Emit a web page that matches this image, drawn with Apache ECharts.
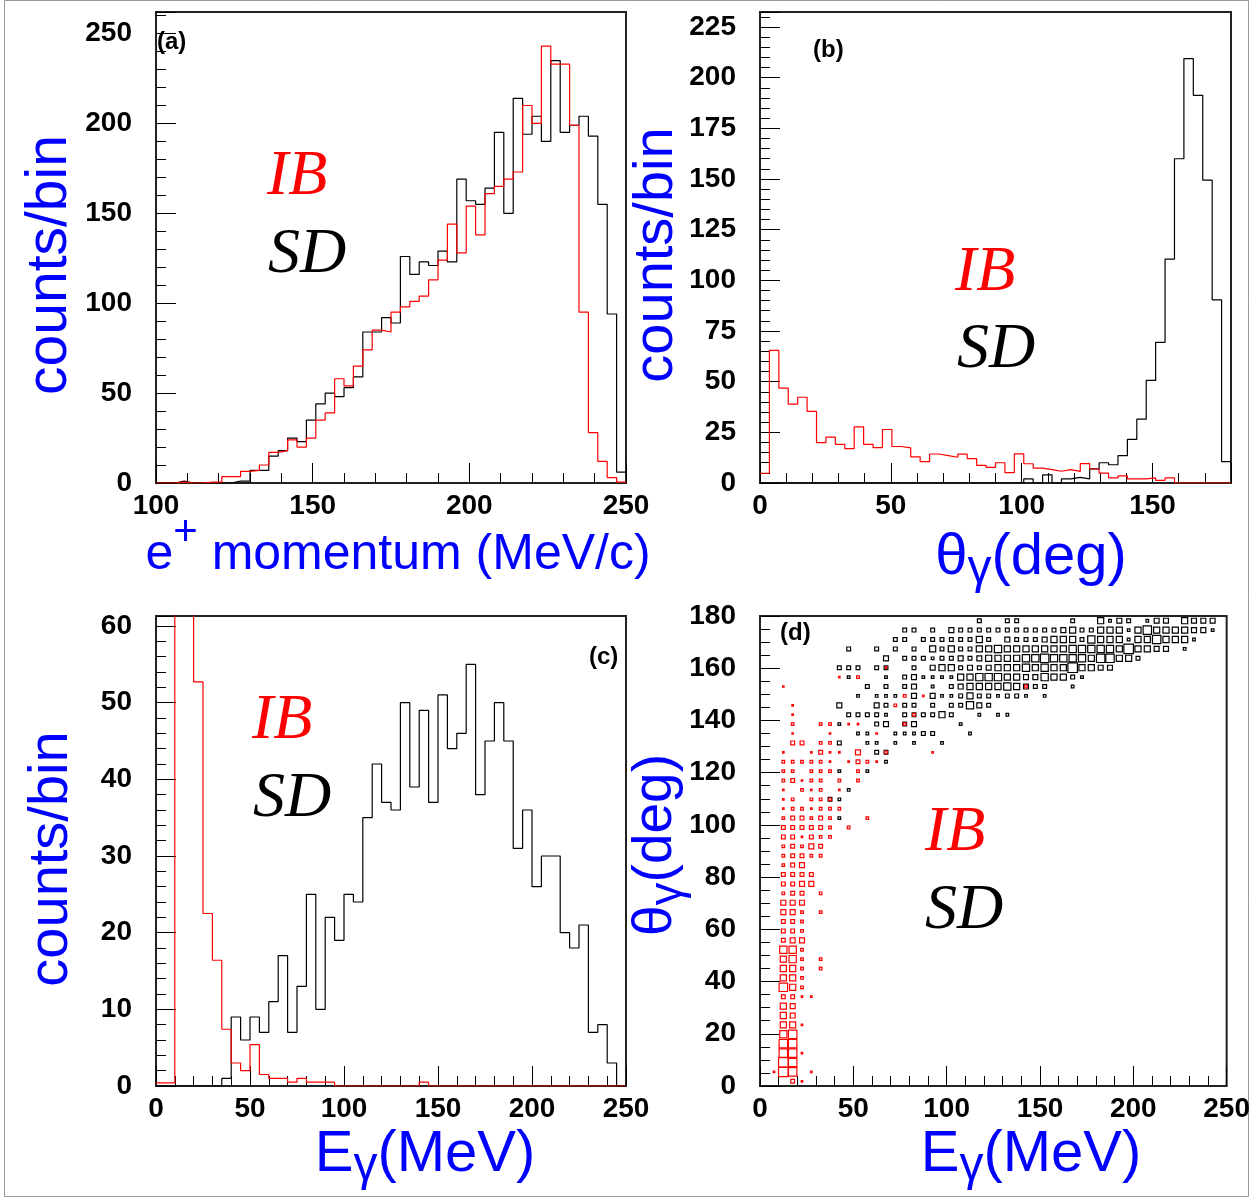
<!DOCTYPE html>
<html>
<head>
<meta charset="utf-8">
<script src="https://cdn.jsdelivr.net/npm/echarts@6/dist/echarts.min.js"></script>
<style>
  html, body { margin: 0; padding: 0; background: #fff; }
  #chart { width: 1253px; height: 1199px; }
</style>
</head>
<body>
<div id="chart"></div>
<script>
// ---------- data ----------
// (a) e+ momentum, 50 bins of 3 MeV/c from 100
const pStart = 100, pWidth = 3
const pSD = [0, 0, 1, 0, 0, 0, 0, 0, 1, 1, 7, 7, 15, 18, 25, 23, 35, 44, 50, 48,
  53, 59, 84, 84, 92, 89, 126, 116, 123, 121, 129, 123, 169, 157, 155, 164, 195, 150, 214, 194,
  204, 190, 235, 195, 199, 204, 193, 155, 94, 6]
const pIB = [0, 0, 0.5, 0, 0, 0.5, 0.5, 3.5, 3.5, 6.5, 7, 10, 17, 18, 24, 20, 25, 35, 39, 58,
  54, 65, 74, 85, 84, 95, 98, 101, 104, 113, 124, 144, 128, 154, 138, 161, 165, 169, 173, 210,
  200, 243, 233, 233, 199, 95, 28, 12, 3, 0.5]

// (b) theta_gamma, 50 bins of 3.6 deg from 0
const thStart = 0, thWidth = 3.6
const thSD = [0, 0, 0, 0, 0, 0, 0, 0, 0, 0, 0, 0, 0, 0, 0, 0, 0, 0, 0, 0,
  0, 0, 0, 0, 0, 0, 0, 0, 2, 0, 4, 0, 2, 2.8, 2, 7, 10, 9, 13.5, 21.5,
  31.5, 50.6, 69.4, 110.5, 160, 209.4, 191.3, 149.4, 90.4, 10.5]
const thIB = [4.8, 65.4, 46.8, 38.9, 42.3, 35.3, 19.9, 22.6, 19.1, 17, 27.7, 19.1, 17.5, 26.4, 18, 17.3, 12.9, 10.5, 14.3, 13.5,
  12.7, 14.2, 12, 8.7, 7.7, 10, 5.1, 14.4, 9.5, 7.3, 6.6, 5.8, 6.6, 5.7, 9.6, 6.9, 4.9, 2.5, 3.5, 2,
  2, 2.5, 1.3, 2.5, 0, 0, 0, 0, 0, 0]

// (c) E_gamma, 50 bins of 5 MeV from 0
const eStart = 0, eWidth = 5
const eSD = [0, 0, 0, 0, 0, 0, 0, 1, 9, 6, 9, 7, 11, 17, 7, 13, 25, 10, 22, 19,
  25, 24, 35, 42, 37, 36, 50, 39, 49, 37, 51, 44, 46, 55, 38, 45, 50, 45, 31, 36,
  26, 30, 30, 20, 18, 21, 7, 8, 3, 0]
const eIB = [0.4, 0.4, 170, 150, 52.7, 22.5, 16.4, 7.4, 3, 2, 5.4, 1.5, 1, 1, 0.5, 1, 0.5, 0.5, 0.5, 0,
  0, 0, 0, 0, 0, 0, 0, 0, 0.5, 0, 0, 0, 0, 0, 0, 0, 0, 0, 0, 0,
  0, 0, 0, 0, 0, 0, 0, 0, 0, 0]

// (d) theta_gamma vs E_gamma boxes: [theta, first E, box weights in 5 MeV steps (0 = empty)]
const sdRows = [
  [178.2, 117.5, [2, 0, 0, 2, 2, 0, 0, 0, 0, 0, 2, 0, 0, 3, 1.5, 2.5, 2, 0, 1.5, 2.5, 2.5, 0, 3, 2.5, 2.5, 2.5]],
  [174.6, 77.5, [2, 2, 0, 2, 0, 2.5, 2, 2, 2, 2, 2, 2, 2, 2, 2, 2, 2, 2.5, 3, 2, 2, 3, 3, 3, 1.5, 3, 4, 3, 3, 3, 3, 2.5, 2.5, 1.5]],
  [171.0, 72.5, [2, 2, 0, 2, 2, 2, 2, 2, 2, 3, 2, 0, 2.5, 2, 2, 2, 2.5, 3, 3, 3, 2, 3.5, 3, 3, 3, 1.5, 3, 3, 4, 3, 3, 3, 1.5]],
  [167.4, 47.5, [2, 0, 0, 2, 0, 2, 0, 2, 0, 3, 2, 3, 2, 2, 3, 3, 3.5, 3, 3, 3, 3, 3, 3, 3, 3.5, 3.5, 3.5, 3.5, 3.5, 3, 4.5, 3, 3, 2.5, 2.5, 0, 1.5]],
  [163.8, 67.5, [2.5, 0, 2, 2, 2, 1.5, 2, 2, 2.5, 2, 2.5, 3, 3, 3, 3, 3.5, 3.5, 4, 3.5, 3.5, 3.5, 3.5, 3, 4, 4, 3, 3, 2]],
  [160.2, 42.5, [2, 2, 2, 0, 2, 2, 0, 0, 2, 0, 2.5, 3, 3, 2, 2.5, 2, 2.5, 3, 3, 3, 3.5, 3, 3.5, 3, 3, 4.5, 3, 3, 2.5, 2.5]],
  [156.6, 47.5, [1.5, 0, 0, 0, 1.5, 0, 2, 2.5, 1.5, 1.5, 1.5, 1.5, 3, 3, 3.5, 3.5, 3.5, 3, 3, 2.5, 2.5, 3.5, 3, 3, 2, 1.5]],
  [153.0, 57.5, [2, 0, 2, 0, 2, 2.5, 0, 1.5, 0, 2, 2.5, 3, 3, 3, 3, 3.5, 3, 2.5, 2, 2, 0, 0, 1.5]],
  [149.4, 52.5, [1.5, 0, 1.5, 1.5, 1.5, 0, 2.5, 0, 2.5, 1.5, 1.5, 2, 3, 2, 2, 1.5, 2, 2, 1.5, 0, 1.5]],
  [145.8, 42.5, [2.5, 0, 0, 0, 2.5, 2, 0, 2, 2, 0, 2, 0, 2, 2, 3.5, 2.5, 2]],
  [142.2, 47.5, [2, 2, 2, 2, 1.5, 0, 2, 2, 2, 2, 3, 2, 0, 0, 1.5, 0, 1.5, 1.5]],
  [138.6, 42.5, [1.5, 0, 0, 0, 2, 2.5, 0, 2, 2.5, 0, 0, 0, 0, 1.5]],
  [135.0, 52.5, [1.5, 1.5, 0, 0, 1.5, 1.5, 1.5, 2, 2, 0, 0, 0, 1.5]],
  [131.4, 42.5, [2, 0, 0, 1.5, 1.5, 0, 1.5, 0, 1.5, 0, 0, 1.5]],
  [127.8, 62.5, [2, 2]],
  [124.2, 67.5, [1.5]],
  [120.6, 42.5, [1.5, 0, 0, 1.5]],
  [113.4, 47.5, [1.5]],
  [109.8, 37.5, [2, 1.5]],
  [102.6, 42.5, [1.5]]
]
const ibRows = [
  [1.8, 17.5, [2, 1]],
  [5.4, 7.5, [1, 5, 4, 0, 1]],
  [9.0, 12.5, [4.5, 4]],
  [12.6, 12.5, [4, 4, 1]],
  [16.2, 12.5, [4, 4]],
  [19.8, 12.5, [3.5, 4]],
  [23.4, 12.5, [3, 3, 1]],
  [27.0, 12.5, [3, 2.5]],
  [30.6, 12.5, [3, 2.5]],
  [34.2, 12.5, [2, 2, 1, 1]],
  [37.8, 12.5, [4, 3, 1.5]],
  [41.4, 12.5, [3, 3, 1.5]],
  [45.0, 12.5, [3, 3, 1.5, 0, 1.5]],
  [48.6, 12.5, [3, 3.5, 1.5, 0, 1.5]],
  [52.2, 12.5, [3.5, 3.5, 1.5]],
  [55.8, 12.5, [2, 2.5, 2.5]],
  [59.4, 12.5, [2, 2, 1.5]],
  [63.0, 12.5, [2, 2, 1.5]],
  [66.6, 12.5, [2.5, 2.5, 1.5, 0, 1.5]],
  [70.2, 12.5, [2.5, 2.5, 2.5]],
  [73.8, 12.5, [1.5, 2, 2, 0, 1.5]],
  [77.4, 12.5, [2, 2, 2.5, 2.5]],
  [81.0, 12.5, [2, 2, 2, 2]],
  [84.6, 12.5, [1.5, 2, 2.5]],
  [88.2, 12.5, [1.5, 2, 2, 1.5, 1.5]],
  [91.8, 12.5, [1.5, 2, 1.5, 2.5, 2]],
  [95.4, 12.5, [2, 2, 1, 2, 1.5, 1.5]],
  [99.0, 12.5, [2, 2, 2, 2, 2, 1.5, 0, 1.5]],
  [102.6, 12.5, [1.5, 2, 2, 1.5, 2, 1.5, 0, 0, 0, 1.5]],
  [106.2, 12.5, [1, 1.5, 1.5, 1, 1.5, 1.5, 1.5]],
  [109.8, 12.5, [1, 1.5, 0, 1.5, 1.5, 1.5]],
  [113.4, 12.5, [1, 0, 1.5, 1, 1.5, 0, 1]],
  [117.0, 12.5, [1.5, 2, 1, 1.5, 1.5, 0, 1.5, 0, 1.5]],
  [120.6, 12.5, [1.5, 1.5, 0, 1.5, 1.5, 1.5, 0, 0, 1.5]],
  [124.2, 12.5, [1.5, 1.5, 1.5, 1.5, 1.5, 1, 0, 1, 2, 1.5, 1]],
  [127.8, 12.5, [1, 0, 0, 1, 2, 1, 1, 0, 2.5, 0, 0, 1.5, 0, 0, 0, 0, 1]],
  [131.4, 17.5, [2, 2, 0, 1.5, 1.5]],
  [135.0, 17.5, [1, 0, 0, 0, 1, 0, 0, 0, 0, 1]],
  [138.6, 17.5, [1.5, 0, 0, 1.5, 1.5, 0, 1, 1, 0, 0, 0, 0, 1.5]],
  [142.2, 17.5, [1]], [142.2, 82.5, [1.5]],
  [145.8, 17.5, [1]], [145.8, 72.5, [1.5]],
  [149.4, 77.5, [1.5, 0, 1]],
  [153.0, 12.5, [1]], [153.0, 142.5, [1.5]],
  [156.6, 42.5, [1, 0, 1.5]],
  [160.2, 67.5, [1]]
]

// ---------- helpers ----------
const BLUE = '#0000ff'
const RED = '#ff0000'
const SANS = '"Liberation Sans", Arial, sans-serif'
const SERIF = '"Liberation Serif", "Times New Roman", serif'

function histPoints(start, width, values) {
  const pts = values.map((v, i) => [start + i * width, v])
  pts.push([start + values.length * width, values[values.length - 1]])
  return pts
}

function boxCells(rows) {
  const out = []
  rows.forEach(([theta, e0, ws]) => {
    ws.forEach((w, k) => { if (w > 0) out.push([e0 + k * eWidth, theta, w]) })
  })
  return out
}

// two axes per direction: minor ticks + labels, and long major ticks
function axisPair(grid, dim, min, max, minor, major, margin) {
  const pos = dim === 'x' ? 'bottom' : 'left'
  const fmt = v => Math.abs(v / major - Math.round(v / major)) < 1e-6 ? String(Math.round(v)) : ''
  const base = { type: 'value', gridIndex: grid, position: pos, min, max, splitLine: { show: false }, axisLine: { show: false } }
  return [
    Object.assign({}, base, {
      interval: minor,
      axisTick: { show: true, inside: true, length: 10, lineStyle: { color: '#000', width: 1 } },
      axisLabel: { show: true, margin, formatter: fmt, fontFamily: SANS, fontSize: 28, fontWeight: 'bold', color: '#000' }
    }),
    Object.assign({}, base, {
      interval: major,
      axisTick: { show: true, inside: true, length: 20, lineStyle: { color: '#000', width: 1 } },
      axisLabel: { show: false }
    })
  ]
}

const mctx = document.createElement('canvas').getContext('2d')
function measure(text, font) { mctx.font = font; return mctx.measureText(text).width }

// axis title built from pieces [text, size, dy]
function axisTitle(cx, cy, parts, rotation) {
  let total = 0
  const items = parts.map(([text, size, dy]) => {
    const font = size + 'px ' + SANS
    const it = { text, font, x: total, dy: dy || 0 }
    total += measure(text, font)
    return it
  })
  return {
    type: 'group', x: cx, y: cy, rotation: rotation || 0,
    children: items.map(it => ({
      type: 'text', x: it.x - total / 2, y: it.dy,
      style: { text: it.text, font: it.font, fill: BLUE, align: 'left', verticalAlign: 'middle', textAlign: 'left', textVerticalAlign: 'middle' }
    }))
  }
}

function label(x, y, text, font, color) {
  return { type: 'text', x, y, style: { text, font, fill: color, align: 'left', verticalAlign: 'middle', textAlign: 'left', textVerticalAlign: 'middle' } }
}

function hist(xi, data, color, z) {
  return { type: 'line', xAxisIndex: xi, yAxisIndex: xi, data, step: 'end', symbol: 'none', showSymbol: false,
    lineStyle: { color, width: 1.2 }, clip: true, z, animation: false, silent: true }
}

// ---------- chart ----------
const grids = [
  { left: 156, top: 12, width: 470, height: 471 },
  { left: 760, top: 12, width: 471, height: 471 },
  { left: 156, top: 616, width: 470, height: 470 },
  { left: 760, top: 616, width: 471, height: 470 }
].map(g => Object.assign(g, { show: true, borderColor: '#222', borderWidth: 2, backgroundColor: 'transparent' }))

const xAxes = [].concat(
  axisPair(0, 'x', 100, 250, 10, 50, 9),
  axisPair(1, 'x', 0, 180, 10, 50, 9),
  axisPair(2, 'x', 0, 250, 10, 50, 9),
  axisPair(3, 'x', 0, 250, 10, 50, 9)
)
const yAxes = [].concat(
  axisPair(0, 'y', 0, 262, 10, 50, 24),
  axisPair(1, 'y', 0, 232.4, 5, 25, 24),
  axisPair(2, 'y', 0, 61.3, 2, 10, 24),
  axisPair(3, 'y', 0, 180, 5, 20, 24)
)

const boxSize = v => Math.min(9.6, Math.max(1.2, v[2] * 2.3 - 0.8))

const option = {
  animation: false,
  backgroundColor: '#fff',
  grid: grids,
  xAxis: xAxes,
  yAxis: yAxes,
  series: [
    hist(0, histPoints(pStart, pWidth, pSD), '#000', 2),
    hist(0, histPoints(pStart, pWidth, pIB), RED, 3),
    hist(2, histPoints(thStart, thWidth, thSD), '#000', 2),
    hist(2, histPoints(thStart, thWidth, thIB), RED, 3),
    hist(4, histPoints(eStart, eWidth, eSD), '#000', 2),
    hist(4, histPoints(eStart, eWidth, eIB), RED, 3),
    { type: 'scatter', xAxisIndex: 6, yAxisIndex: 6, data: boxCells(sdRows), symbol: 'rect', symbolSize: boxSize,
      itemStyle: { color: 'rgba(0,0,0,0)', borderColor: '#000', borderWidth: 1.2, opacity: 1 }, z: 2, silent: true },
    { type: 'scatter', xAxisIndex: 6, yAxisIndex: 6, data: boxCells(ibRows), symbol: 'rect', symbolSize: boxSize,
      itemStyle: { color: 'rgba(0,0,0,0)', borderColor: RED, borderWidth: 1.2, opacity: 1 }, z: 3, silent: true }
  ],
  graphic: [
    { type: 'rect', shape: { x: 4.5, y: 0.5, width: 1244, height: 1196 }, style: { fill: 'none', stroke: '#999', lineWidth: 1 }, z: -10 },
    // axis titles
    axisTitle(50, 265, [['counts/bin', 57]], Math.PI / 2),
    axisTitle(657, 255, [['counts/bin', 56]], Math.PI / 2),
    axisTitle(52, 859, [['counts/bin', 56]], Math.PI / 2),
    axisTitle(656, 845, [['θ', 55], ['γ', 46, 12], ['(deg)', 55]], Math.PI / 2),
    axisTitle(398, 555, [['e', 50], ['+', 42, -22], [' momentum (MeV/c)', 50]]),
    axisTitle(1031, 558, [['θ', 58], ['γ', 48, 12], ['(deg)', 58]]),
    axisTitle(425, 1155, [['E', 58], ['γ', 48, 12], ['(MeV)', 58]]),
    axisTitle(1031, 1155, [['E', 58], ['γ', 48, 12], ['(MeV)', 58]]),
    // panel tags
    label(157, 42, '(a)', 'bold 24px ' + SANS, '#000'),
    label(813, 50, '(b)', 'bold 24px ' + SANS, '#000'),
    label(589, 657, '(c)', 'bold 24px ' + SANS, '#000'),
    label(780, 633, '(d)', 'bold 24px ' + SANS, '#000'),
    // legends
    label(267, 177, 'IB', 'italic 64px ' + SERIF, RED),
    label(268, 255, 'SD', 'italic 64px ' + SERIF, '#000'),
    label(955, 273, 'IB', 'italic 64px ' + SERIF, RED),
    label(957, 350, 'SD', 'italic 64px ' + SERIF, '#000'),
    label(252, 721, 'IB', 'italic 64px ' + SERIF, RED),
    label(253, 799, 'SD', 'italic 64px ' + SERIF, '#000'),
    label(925, 833, 'IB', 'italic 64px ' + SERIF, RED),
    label(925, 911, 'SD', 'italic 64px ' + SERIF, '#000')
  ]
}

const chart = echarts.init(document.getElementById('chart'), null, { renderer: 'canvas' })
chart.setOption(option)
window.addEventListener('resize', () => chart.resize())
</script>
</body>
</html>
